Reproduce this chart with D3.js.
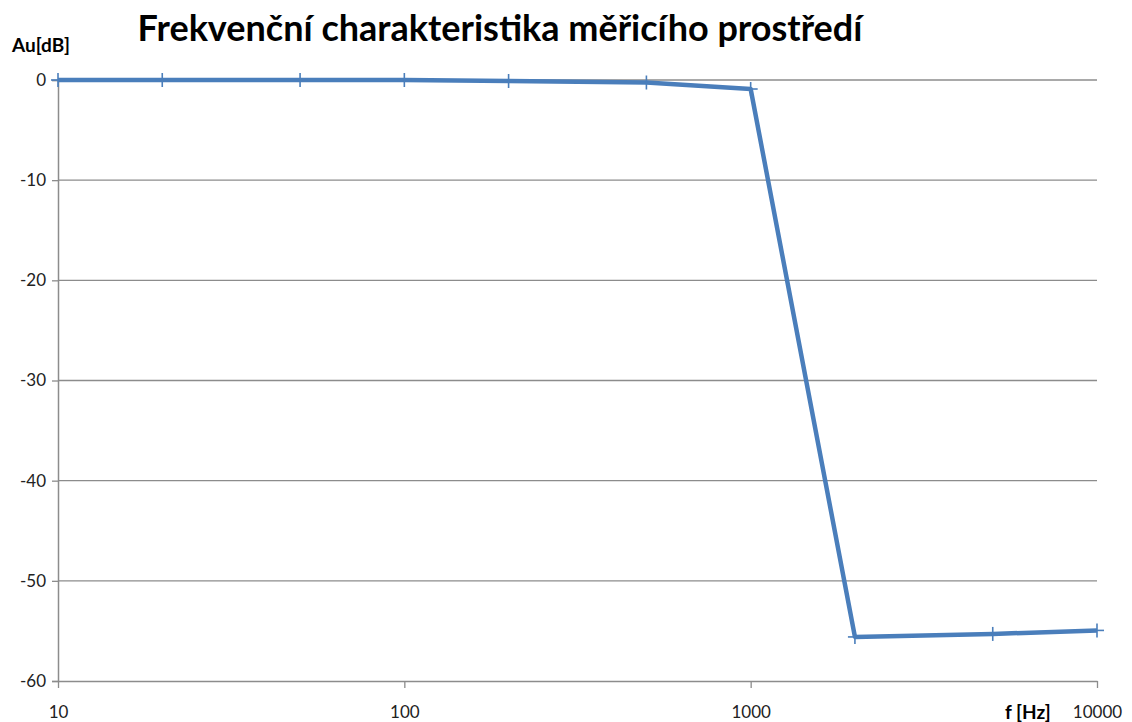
<!DOCTYPE html>
<html><head><meta charset="utf-8">
<script src="https://cdn.jsdelivr.net/npm/d3@7"></script>
<style>body{margin:0;background:#fff}svg{display:block}</style>
</head><body>
<svg id="c" width="1132" height="722"></svg>
<script>
const title = "Frekvenční charakteristika měřicího prostředí";
const yLabel = "Au[dB]";
const xLabel = "f [Hz]";
const freqs = [10, 20, 50, 100, 200, 500, 1000, 2000, 5000, 10000];
const gains = [0, 0, 0, 0, -0.1, -0.25, -0.9, -55.6, -55.3, -54.95];
const yTicks = [0, -10, -20, -30, -40, -50, -60];
const xTicks = [10, 100, 1000, 10000];

const svg = d3.select("#c");
const L = 58, R = 1097, T = 80, B = 681;
const x = d3.scaleLog().domain([10, 10000]).range([L, R]);
const y = d3.scaleLinear().domain([-60, 0]).range([B, T]);
const font = "Lato, 'Open Sans', sans-serif";

svg.append("g").selectAll("line").data(yTicks.filter(d => d !== -60)).join("line")
  .attr("x1", L).attr("x2", R).attr("y1", d => y(d)).attr("y2", d => y(d))
  .attr("stroke", "#8c8c8c").attr("stroke-width", 1.3);

const ya = svg.append("g").attr("transform", `translate(${L},0)`)
  .call(d3.axisLeft(y).tickValues(yTicks).tickSize(6).tickPadding(6).tickFormat(d3.format("d")));
ya.select(".domain").attr("stroke", "#8c8c8c").attr("stroke-width", 1.5);
ya.selectAll(".tick line").attr("stroke", "#8c8c8c").attr("stroke-width", 1.3);
ya.selectAll("text").attr("font-family", font).attr("font-size", 17).attr("fill", "#222")
  .text(d => d === 0 ? "0" : "-" + Math.abs(d));

const xa = svg.append("g").attr("transform", `translate(0,${B})`)
  .call(d3.axisBottom(x).tickValues(xTicks).tickSize(7).tickSizeOuter(0).tickPadding(18).tickFormat(d3.format("d")));
xa.select(".domain").attr("stroke", "#8c8c8c").attr("stroke-width", 1.5);
xa.selectAll(".tick line").attr("stroke", "#8c8c8c").attr("stroke-width", 1.3);
xa.selectAll("text").attr("font-family", font).attr("font-size", 17).attr("fill", "#222");

const data = freqs.map((f, i) => ({f, g: gains[i]}));
svg.append("path").datum(data)
  .attr("fill", "none").attr("stroke", "#4a7ebb").attr("stroke-width", 4.5)
  .attr("stroke-linejoin", "round")
  .attr("d", d3.line().x(d => x(d.f)).y(d => y(d.g)));

const m = svg.append("g").selectAll("g").data(data).join("g")
  .attr("transform", d => `translate(${x(d.f)},${y(d.g)})`);
m.append("line").attr("x1", -7).attr("x2", 7).attr("y1", 0).attr("y2", 0)
  .attr("stroke", "#4a7ebb").attr("stroke-width", 1.6);
m.append("line").attr("x1", 0).attr("x2", 0).attr("y1", -7).attr("y2", 7)
  .attr("stroke", "#4a7ebb").attr("stroke-width", 1.6);

svg.append("text").attr("x", 500).attr("y", 41).attr("text-anchor", "middle")
  .attr("font-family", font).attr("font-weight", "bold").attr("font-size", 36)
  .attr("fill", "#000").text(title);
svg.append("text").attr("x", 12).attr("y", 52)
  .attr("font-family", font).attr("font-weight", "bold").attr("font-size", 19)
  .attr("fill", "#000").text(yLabel);
svg.append("text").attr("x", 1005).attr("y", 719)
  .attr("font-family", font).attr("font-weight", "bold").attr("font-size", 19)
  .attr("fill", "#000").text(xLabel);
</script>
</body></html>
